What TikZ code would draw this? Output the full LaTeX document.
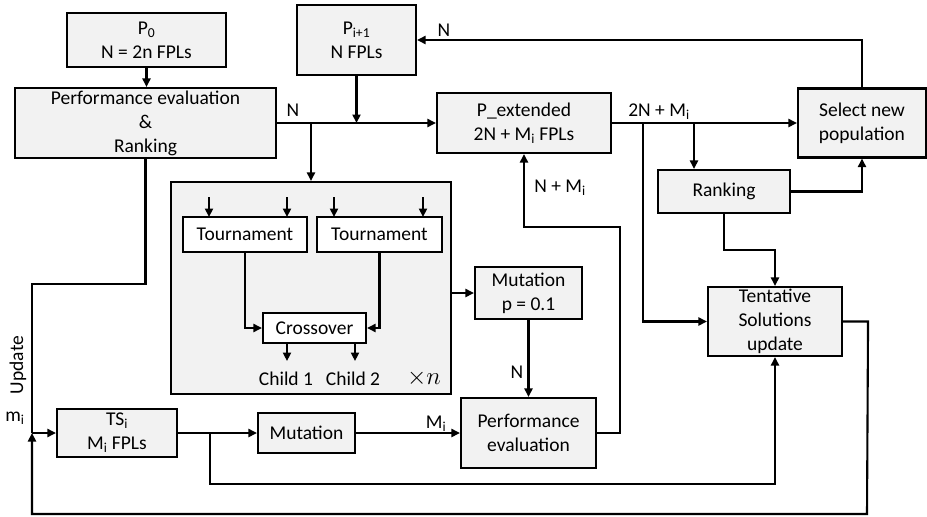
\documentclass[tikz,border=0pt]{standalone}
\usepackage{fontspec}
\setmainfont{Carlito}
\usetikzlibrary{arrows.meta}
\definecolor{boxgray}{RGB}{242,242,242}
\begin{document}
\begin{tikzpicture}[x=1pt,y=-1pt,line width=2.1pt,
  every node/.style={font=\fontsize{19.5}{24}\selectfont},
  box/.style={draw, fill=boxgray, inner sep=0pt, align=center},
  wbox/.style={draw, fill=white, inner sep=0pt, align=center},
  arr/.style={-{Triangle[length=8.5pt,width=8pt]}}]
\useasboundingbox (0,0) rectangle (927,517);
% boxes
\node[box, minimum width=159pt, minimum height=54pt] (P0) at (146.5,40) {P\textsubscript{0}\\N = 2n FPLs};
\node[box, minimum width=261pt, minimum height=70pt] (PE) at (145.5,123) {Performance evaluation\\\&\\Ranking};
\node[box, minimum width=119pt, minimum height=70pt] (Pi1) at (356.5,40) {P\textsubscript{i+1}\\N FPLs};
\node[box, minimum width=174pt, minimum height=60pt] (Pext) at (524,123) {P\_extended\\2N + M\textsubscript{i} FPLs};
\node[box, minimum width=128pt, minimum height=69pt] (Sel) at (862,123) {Select new\\population};
\node[box, minimum width=132pt, minimum height=43pt] (Rank) at (724,191.5) {Ranking};
\node[box, minimum width=134pt, minimum height=69pt] (Tent) at (775,321.5) {Tentative\\Solutions\\update};
\node[box, minimum width=280pt, minimum height=212pt] (Big) at (311,288) {};
\node[wbox, minimum width=124pt, minimum height=35pt] (T1) at (245,234.5) {Tournament};
\node[wbox, minimum width=125pt, minimum height=35pt] (T2) at (379.5,234.5) {Tournament};
\node[wbox, minimum width=103pt, minimum height=30pt] (Cross) at (314.5,328) {Crossover};
\node[box, minimum width=107pt, minimum height=52pt] (MutP) at (528.5,293) {Mutation\\p = 0.1};
\node[box, minimum width=135pt, minimum height=70pt] (PE2) at (528.5,433) {Performance\\evaluation};
\node[box, minimum width=120pt, minimum height=48pt] (TS) at (117,433) {TS\textsubscript{i}\\M\textsubscript{i} FPLs};
\node[box, minimum width=97pt, minimum height=40pt] (Mut) at (306.5,433) {Mutation};
% coordinates
\coordinate (jA) at (643,123);
\coordinate (jB) at (694,123);
\coordinate (mi) at (32,433);
\coordinate (jT) at (210,433);
% connectors
\draw[arr] (P0.south) -- (P0.south |- PE.north);
\draw[arr] (PE.east) -- (Pext.west);
\draw[arr] (Pi1.south) -- (Pi1.south |- PE.east);
\draw[arr] (PE.east -| Big.north) -- (Big.north);
\draw[arr] (Sel.north) -- (Sel.north |- Pi1.east) -- (Pi1.east);
\draw[arr] (Pext.east) -- (Pext.east -| Sel.west);
\draw[arr] (jB) -- (jB |- Rank.north);
\draw[arr] (jA) -- (jA |- Tent.west) -- (Tent.west);
\draw[arr] (Rank.east) -| (Sel.south);
\draw[arr] (Rank.south) -- ++(0,36) -| (Tent.north);
\draw[arr] (Tent.east) -- ++(25,0) -- (867,514) -| (mi);
\draw (PE.south) -- ++(0,125) -| (mi);
\draw[arr] (mi) -- (TS.west);
\draw[arr] (TS.east) -- (Mut.west);
\draw[arr] (jT) -- (210,484) -| (Tent.south);
\draw[arr] (Mut.east) -- (PE2.west);
\draw[arr] (Big.east |- MutP.west) -- (MutP.west);
\draw[arr] (MutP.south) -- (MutP.south |- PE2.north);
\draw[arr] (PE2.east) -- (620,433) -- (620,227) -| (Pext.south);
\foreach \x in {209,287} \draw[arr] (\x,197) -- (\x,217);
\foreach \x in {334,423} \draw[arr] (\x,197) -- (\x,217);
\draw[arr] (T1.south) |- (Cross.west);
\draw[arr] (T2.south) |- (Cross.east);
\draw[arr] ([xshift=-27.5pt]Cross.south) -- ++(0,17);
\draw[arr] ([xshift=40.5pt]Cross.south) -- ++(0,17);
% labels
\node at (293,110) {N};
\node at (444,30) {N};
\node at (659,112) {2N + M\textsubscript{i}};
\node at (560,188) {N + M\textsubscript{i}};
\node at (517,372) {N};
\node at (436,424) {M\textsubscript{i}};
\node at (15,418) {m\textsubscript{i}};
\node[rotate=90] at (18,365) {Update};
\node at (286,379) {Child 1};
\node at (353,379) {Child 2};
\node[font=\fontsize{23}{26}\selectfont] at (424,378) {$\times n$};
\end{tikzpicture}
\end{document}
